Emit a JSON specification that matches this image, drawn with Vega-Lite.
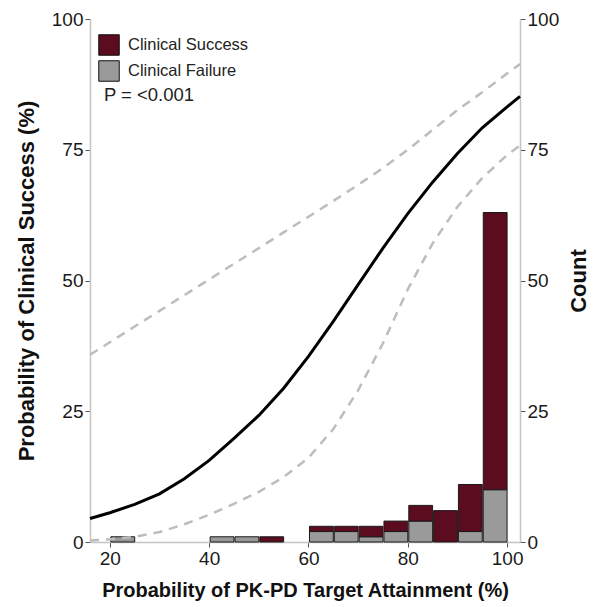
{
  "$schema": "https://vega.github.io/schema/vega-lite/v6.json",
  "width": 430,
  "height": 523,
  "autosize": {"type": "none"},
  "padding": {"left": 90, "top": 19, "right": 77, "bottom": 65},
  "background": "white",
  "config": {
    "font": "Liberation Sans",
    "view": {"stroke": null},
    "axis": {"grid": false, "labelFontSize": 19, "labelColor": "#1a1a1a", "titleFontSize": 20, "titleFontWeight": "bold", "titleColor": "#111111", "domainColor": "#c4c4c4", "domainWidth": 1.5, "tickColor": "#555555", "tickSize": 5, "labelPadding": 2}
  },
  "datasets": {
    "bars": [
      {"bin_start": 20, "bin_end": 25, "outcome": "Clinical Failure", "count": 1},
      {"bin_start": 40, "bin_end": 45, "outcome": "Clinical Failure", "count": 1},
      {"bin_start": 45, "bin_end": 50, "outcome": "Clinical Failure", "count": 1},
      {"bin_start": 50, "bin_end": 55, "outcome": "Clinical Success", "count": 1},
      {"bin_start": 60, "bin_end": 65, "outcome": "Clinical Failure", "count": 2},
      {"bin_start": 60, "bin_end": 65, "outcome": "Clinical Success", "count": 1},
      {"bin_start": 65, "bin_end": 70, "outcome": "Clinical Failure", "count": 2},
      {"bin_start": 65, "bin_end": 70, "outcome": "Clinical Success", "count": 1},
      {"bin_start": 70, "bin_end": 75, "outcome": "Clinical Failure", "count": 1},
      {"bin_start": 70, "bin_end": 75, "outcome": "Clinical Success", "count": 2},
      {"bin_start": 75, "bin_end": 80, "outcome": "Clinical Failure", "count": 2},
      {"bin_start": 75, "bin_end": 80, "outcome": "Clinical Success", "count": 2},
      {"bin_start": 80, "bin_end": 85, "outcome": "Clinical Failure", "count": 4},
      {"bin_start": 80, "bin_end": 85, "outcome": "Clinical Success", "count": 3},
      {"bin_start": 85, "bin_end": 90, "outcome": "Clinical Success", "count": 6},
      {"bin_start": 90, "bin_end": 95, "outcome": "Clinical Failure", "count": 2},
      {"bin_start": 90, "bin_end": 95, "outcome": "Clinical Success", "count": 9},
      {"bin_start": 95, "bin_end": 100, "outcome": "Clinical Failure", "count": 10},
      {"bin_start": 95, "bin_end": 100, "outcome": "Clinical Success", "count": 53}
    ],
    "curves": [
      {"series": "Fit", "x": 16, "p": 4.5},
      {"series": "Fit", "x": 20, "p": 5.6},
      {"series": "Fit", "x": 25, "p": 7.2},
      {"series": "Fit", "x": 30, "p": 9.2},
      {"series": "Fit", "x": 35, "p": 12.1},
      {"series": "Fit", "x": 40, "p": 15.6},
      {"series": "Fit", "x": 45, "p": 19.8},
      {"series": "Fit", "x": 50, "p": 24.2},
      {"series": "Fit", "x": 55, "p": 29.4},
      {"series": "Fit", "x": 60, "p": 35.5},
      {"series": "Fit", "x": 65, "p": 42.2},
      {"series": "Fit", "x": 70, "p": 49.2},
      {"series": "Fit", "x": 75, "p": 56.2},
      {"series": "Fit", "x": 80, "p": 62.8},
      {"series": "Fit", "x": 85, "p": 68.8},
      {"series": "Fit", "x": 90, "p": 74.3},
      {"series": "Fit", "x": 95, "p": 79.2},
      {"series": "Fit", "x": 100, "p": 83.2},
      {"series": "Fit", "x": 102.6, "p": 85.2},
      {"series": "Upper", "x": 16, "p": 35.8},
      {"series": "Upper", "x": 20, "p": 38.2},
      {"series": "Upper", "x": 25, "p": 41.2},
      {"series": "Upper", "x": 30, "p": 44.2},
      {"series": "Upper", "x": 35, "p": 47.2},
      {"series": "Upper", "x": 40, "p": 50.2},
      {"series": "Upper", "x": 45, "p": 53.2},
      {"series": "Upper", "x": 50, "p": 56.2},
      {"series": "Upper", "x": 55, "p": 59.2},
      {"series": "Upper", "x": 60, "p": 62.2},
      {"series": "Upper", "x": 65, "p": 65.2},
      {"series": "Upper", "x": 70, "p": 68.3},
      {"series": "Upper", "x": 75, "p": 71.5},
      {"series": "Upper", "x": 80, "p": 75.0},
      {"series": "Upper", "x": 85, "p": 78.8},
      {"series": "Upper", "x": 90, "p": 82.6},
      {"series": "Upper", "x": 95, "p": 86.0},
      {"series": "Upper", "x": 100, "p": 89.6},
      {"series": "Upper", "x": 102.6, "p": 91.4},
      {"series": "Lower", "x": 16, "p": 0.3},
      {"series": "Lower", "x": 20, "p": 0.5},
      {"series": "Lower", "x": 25, "p": 1.0},
      {"series": "Lower", "x": 30, "p": 1.9},
      {"series": "Lower", "x": 35, "p": 3.4},
      {"series": "Lower", "x": 40, "p": 5.2},
      {"series": "Lower", "x": 45, "p": 7.3},
      {"series": "Lower", "x": 50, "p": 9.6},
      {"series": "Lower", "x": 55, "p": 12.4},
      {"series": "Lower", "x": 60, "p": 16.1},
      {"series": "Lower", "x": 65, "p": 21.6},
      {"series": "Lower", "x": 70, "p": 29.0},
      {"series": "Lower", "x": 75, "p": 38.0},
      {"series": "Lower", "x": 80, "p": 48.3},
      {"series": "Lower", "x": 85, "p": 57.1},
      {"series": "Lower", "x": 90, "p": 64.1},
      {"series": "Lower", "x": 95, "p": 69.6},
      {"series": "Lower", "x": 100, "p": 74.0},
      {"series": "Lower", "x": 102.6, "p": 75.8}
    ]
  },
  "layer": [
    {
      "data": {"name": "bars"},
      "mark": {"type": "bar", "stroke": "#1a1a1a", "strokeWidth": 1},
      "encoding": {
        "x": {"field": "bin_start", "type": "quantitative", "bin": "binned", "scale": {"domain": [16, 102.6], "nice": false, "zero": false},
              "axis": {"values": [20, 40, 60, 80, 100], "title": "Probability of PK-PD Target Attainment (%)", "titlePadding": 12, "format": "d"}},
        "x2": {"field": "bin_end"},
        "y": {"field": "count", "type": "quantitative", "stack": "zero", "scale": {"domain": [0, 100], "nice": false},
              "axis": {"orient": "right", "title": "Count", "values": [0, 25, 50, 75, 100], "titleAngle": 270, "titleBaseline": "top", "titleFontSize": 22, "titlePadding": 10}},
        "color": {"field": "outcome", "type": "nominal",
                  "scale": {"domain": ["Clinical Success", "Clinical Failure"], "range": ["#5b0c1e", "#9a9a9a"]},
                  "legend": {"orient": "none", "legendX": 8, "legendY": 15, "title": null, "symbolType": "square", "symbolSize": 420, "symbolStrokeColor": "#111111", "symbolStrokeWidth": 1, "symbolOpacity": 1, "labelFontSize": 16.5, "labelColor": "#222222", "rowPadding": 0, "labelOffset": 8}},
        "order": {"field": "outcome", "sort": "ascending"}
      }
    },
    {
      "layer": [
        {
          "data": {"name": "curves"},
          "transform": [{"filter": "datum.series !== 'Fit'"}],
          "mark": {"type": "line", "color": "#bdbdbd", "strokeWidth": 2.5, "strokeDash": [9, 7]},
          "encoding": {
            "x": {"field": "x", "type": "quantitative", "scale": {"domain": [16, 102.6], "nice": false, "zero": false}},
            "y": {"field": "p", "type": "quantitative", "scale": {"domain": [0, 100], "nice": false},
                  "axis": {"orient": "left", "title": "Probability of Clinical Success (%)", "values": [0, 25, 50, 75, 100], "titleFontSize": 22, "titlePadding": 13}},
            "detail": {"field": "series"}
          }
        },
        {
          "data": {"name": "curves"},
          "transform": [{"filter": "datum.series === 'Fit'"}],
          "mark": {"type": "line", "color": "#000000", "strokeWidth": 3},
          "encoding": {
            "x": {"field": "x", "type": "quantitative", "scale": {"domain": [16, 102.6], "nice": false, "zero": false}},
            "y": {"field": "p", "type": "quantitative", "scale": {"domain": [0, 100], "nice": false},
                  "axis": {"orient": "left", "title": "Probability of Clinical Success (%)", "values": [0, 25, 50, 75, 100], "titleFontSize": 22, "titlePadding": 13}}
          }
        },
        {
          "data": {"values": [{"label": "P = <0.001", "x": 18.8, "p": 85.5}]},
          "mark": {"type": "text", "align": "left", "baseline": "middle", "fontSize": 18.5, "color": "#222222"},
          "encoding": {
            "x": {"field": "x", "type": "quantitative"},
            "y": {"field": "p", "type": "quantitative"},
            "text": {"field": "label"}
          }
        }
      ]
    }
  ],
  "resolve": {"scale": {"y": "independent"}}
}
